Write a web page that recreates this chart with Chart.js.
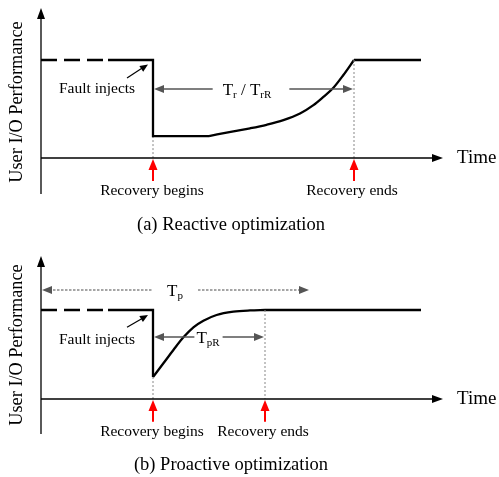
<!DOCTYPE html>
<html><head><meta charset="utf-8">
<script src="https://cdn.jsdelivr.net/npm/chart.js@4"></script>
<style>html,body{margin:0;padding:0;background:#fff;}canvas{display:block;}</style>
</head><body>
<canvas id="ca" width="499" height="240"></canvas>
<canvas id="cb" width="499" height="237"></canvas>
<script>
// ---------- data: time units along x (0..100), performance units (normal = 100) ----------
const timeAxisEnd = 100;
const faultTime = 28;
const dashEndTime = 16.75;
const normalPerf = 100;
const flatEndTime = 95;
const dashTime = [0, 16.75];

// (a) Reactive optimization
const aDropPerf = 22.4;
const aLowEndTime = 42;
const aCurveTime = [42, 48.1, 52.25, 56.4, 60.6, 64.75, 68.1, 70.6, 73.1, 75.6, 78.25];
const aCurvePerf = [22.4, 27.2, 30.3, 33.9, 38.6, 45.4, 53.9, 62.4, 71.7, 84.7, 100];
const aRecoveryEnd = 78.25;
const aYAxisRange = [-36.7, 153];
const aTrLevel = 70.4;

// (b) Proactive optimization
const bCurveTime = [28, 30.6, 33.1, 35.6, 38.1, 40.6, 43.9, 48.1, 52.25, 56];
const bCurvePerf = [24.7, 40.1, 55.1, 69.3, 80.6, 88, 94.4, 98.1, 99.5, 100];
const bRecoveryEnd = 56;
const bYAxisRange = [-39.3, 160.7];
const bTpLevel = 122.5;
const bTpEnd = 67;
const bTpRLevel = 69.7;

// ---------- texts ----------
const yTitle = "User I/O Performance";
const xTitle = "Time";
const faultLabel = "Fault injects";
const beginLabel = "Recovery begins";
const endLabel = "Recovery ends";
const captionA = "(a) Reactive optimization";
const captionB = "(b) Proactive optimization";

const SERIF = "'Liberation Serif','Times New Roman',serif";
const GRAY = '#555';
const DOT = '#888';

function pts(xs, ys){ return xs.map((x,i)=>({x, y:ys[i]})); }

function head(ctx,x,y,ang,len,half,color){
  ctx.save(); ctx.translate(x,y); ctx.rotate(ang);
  ctx.beginPath(); ctx.moveTo(0,0); ctx.lineTo(-len,-half); ctx.lineTo(-len,half); ctx.closePath();
  ctx.fillStyle=color; ctx.fill(); ctx.restore();
}
function hline(ctx,x1,x2,y,color,w,dash){
  ctx.save(); ctx.strokeStyle=color; ctx.lineWidth=w; ctx.setLineDash(dash||[]);
  ctx.beginPath(); ctx.moveTo(x1,y); ctx.lineTo(x2,y); ctx.stroke(); ctx.restore();
}
function text(ctx,s,x,y,size,align){
  ctx.save(); ctx.font=size+'px '+SERIF; ctx.fillStyle='#000'; ctx.textAlign=align||'center'; ctx.textBaseline='middle';
  ctx.fillText(s,x,y); ctx.restore();
}
function subText(ctx,parts,cx,cy){
  ctx.save(); ctx.fillStyle='#000'; ctx.textBaseline='alphabetic';
  const big=17, small=11;
  let w=0;
  parts.forEach(p=>{ ctx.font=(p[1]?small:big)+'px '+SERIF; w+=ctx.measureText(p[0]).width; });
  let x=cx-w/2; const base=cy+6;
  parts.forEach(p=>{ ctx.font=(p[1]?small:big)+'px '+SERIF; ctx.fillText(p[0],x,base+(p[1]?3:0)); x+=ctx.measureText(p[0]).width; });
  ctx.restore(); return w;
}
function redArrow(ctx,x,yTip,yBot){
  ctx.save(); ctx.strokeStyle='#f00'; ctx.lineWidth=2;
  ctx.beginPath(); ctx.moveTo(x,yBot); ctx.lineTo(x,yTip+9); ctx.stroke(); ctx.restore();
  head(ctx,x,yTip,-Math.PI/2,11,4.5,'#f00');
}
function common(ctx,chart,X,Y,yRange,caption,yTitleY){
  head(ctx,X(timeAxisEnd)+2,Y(0),0,11,4,'#000');
  head(ctx,X(0),Y(yRange[1]),-Math.PI/2,11,4,'#000');
  ctx.save(); ctx.translate(17,yTitleY); ctx.rotate(-Math.PI/2);
  ctx.font='18.3px '+SERIF; ctx.fillStyle='#000'; ctx.textAlign='center'; ctx.textBaseline='middle';
  ctx.fillText(yTitle,0,0); ctx.restore();
  text(ctx,xTitle,457,Y(0),19,'left');
  text(ctx,caption,231,225,18.5);
}

const plugA = { id:'diagA', afterDatasetsDraw(chart){
  const ctx=chart.ctx, X=v=>chart.scales.x.getPixelForValue(v), Y=v=>chart.scales.y.getPixelForValue(v);
  common(ctx,chart,X,Y,aYAxisRange,captionA,102);
  const cy=Y(aTrLevel);
  const w=subText(ctx,[['T',0],['r',1],[' / T',0],['rR',1]],247,cy);
  hline(ctx,X(faultTime)+8,247-w/2-10,cy,GRAY,1.6);
  hline(ctx,247+w/2+18,X(aRecoveryEnd)-8,cy,GRAY,1.6);
  head(ctx,X(faultTime)+1,cy,Math.PI,10,4,GRAY);
  head(ctx,X(aRecoveryEnd)-1,cy,0,10,4,GRAY);
  text(ctx,faultLabel,97,cy,15.5);
  ctx.save(); ctx.strokeStyle='#000'; ctx.lineWidth=1.2; ctx.beginPath(); ctx.moveTo(127,78); ctx.lineTo(143,67.5); ctx.stroke(); ctx.restore();
  head(ctx,148,64.5,Math.atan2(-13.5,21),8,3.5,'#000');
  redArrow(ctx,X(faultTime),Y(0)+1,Y(-23.5));
  redArrow(ctx,X(aRecoveryEnd),Y(0)+1,Y(-23.5));
  text(ctx,beginLabel,152,191,15.5);
  text(ctx,endLabel,352,191,15.5);
}};

const plugB = { id:'diagB', afterDatasetsDraw(chart){
  const ctx=chart.ctx, X=v=>chart.scales.x.getPixelForValue(v), Y=v=>chart.scales.y.getPixelForValue(v);
  common(ctx,chart,X,Y,bYAxisRange,captionB,105);
  const ty=Y(bTpLevel);
  subText(ctx,[['T',0],['p',1]],175,ty);
  hline(ctx,X(0)+8,X(faultTime),ty,DOT,1.3,[2.5,1.5]);
  hline(ctx,198,X(bTpEnd)-8,ty,DOT,1.3,[2.5,1.5]);
  head(ctx,X(0)+1,ty,Math.PI,10,4,GRAY);
  head(ctx,X(bTpEnd),ty,0,10,4,GRAY);
  const ry=Y(bTpRLevel);
  const w=subText(ctx,[['T',0],['pR',1]],208,ry);
  hline(ctx,X(faultTime)+8,208-w/2-2,ry,GRAY,1.6);
  hline(ctx,208+w/2+3,X(bRecoveryEnd)-8,ry,GRAY,1.6);
  head(ctx,X(faultTime)+1,ry,Math.PI,10,4,GRAY);
  head(ctx,X(bRecoveryEnd)-1,ry,0,10,4,GRAY);
  text(ctx,faultLabel,97,100,15.5);
  ctx.save(); ctx.strokeStyle='#000'; ctx.lineWidth=1.2; ctx.beginPath(); ctx.moveTo(127,87.3); ctx.lineTo(143,78); ctx.stroke(); ctx.restore();
  head(ctx,148,75,Math.atan2(-12.3,20.7),8,3.5,'#000');
  redArrow(ctx,X(faultTime),Y(0)+1,Y(-25.5));
  redArrow(ctx,X(bRecoveryEnd),Y(0)+1,Y(-25.5));
  text(ctx,beginLabel,152,192,15.5);
  text(ctx,endLabel,263,192,15.5);
}};

function baseDatasets(yRange, dropPerf, recEnd, lowEnd){
  return [
    {data:pts([0,timeAxisEnd-1],[0,0]), borderColor:'#000', borderWidth:1.3},
    {data:pts([0,0],[yRange[0],yRange[1]-5]), borderColor:'#000', borderWidth:1.3},
    {data:pts(dashTime,[normalPerf,normalPerf]), borderColor:'#000', borderWidth:2.3, borderDash:[16,7]},
    {data:pts([dashEndTime,faultTime,faultTime,lowEnd],[normalPerf,normalPerf,dropPerf,dropPerf]), borderColor:'#000', borderWidth:2.3},
    {data:pts([faultTime,faultTime],[dropPerf,0]), borderColor:DOT, borderWidth:1, borderDash:[2,2]},
    {data:pts([recEnd,recEnd],[normalPerf,0]), borderColor:DOT, borderWidth:1, borderDash:[2,2]},
    {data:pts([recEnd,flatEndTime],[normalPerf,normalPerf]), borderColor:'#000', borderWidth:2.3},
  ];
}
function opts(padTop,padBottom){
  return {responsive:false, animation:false, events:[],
    layout:{padding:{left:41,right:58,top:padTop,bottom:padBottom}},
    scales:{x:{type:'linear',min:0,max:100,display:false}, y:{type:'linear',min:0,max:100,display:false}},
    plugins:{legend:{display:false},tooltip:{enabled:false}},
    elements:{point:{radius:0}, line:{borderCapStyle:'butt', borderJoinStyle:'miter', fill:false}},
    datasets:{line:{clip:false}}
  };
}

const dsA = baseDatasets(aYAxisRange, aDropPerf, aRecoveryEnd, aLowEndTime);
dsA.push({data:pts(aCurveTime,aCurvePerf), borderColor:'#000', borderWidth:2.3, cubicInterpolationMode:'monotone'});
new Chart(document.getElementById('ca'), {type:'line', data:{datasets:dsA}, options:opts(60,82), plugins:[plugA]});

const dsB = baseDatasets(bYAxisRange, bCurvePerf[0], bRecoveryEnd, faultTime);
dsB.push({data:pts(bCurveTime,bCurvePerf), borderColor:'#000', borderWidth:2.3, cubicInterpolationMode:'monotone'});
new Chart(document.getElementById('cb'), {type:'line', data:{datasets:dsB}, options:opts(70,78), plugins:[plugB]});
</script>
</body></html>
